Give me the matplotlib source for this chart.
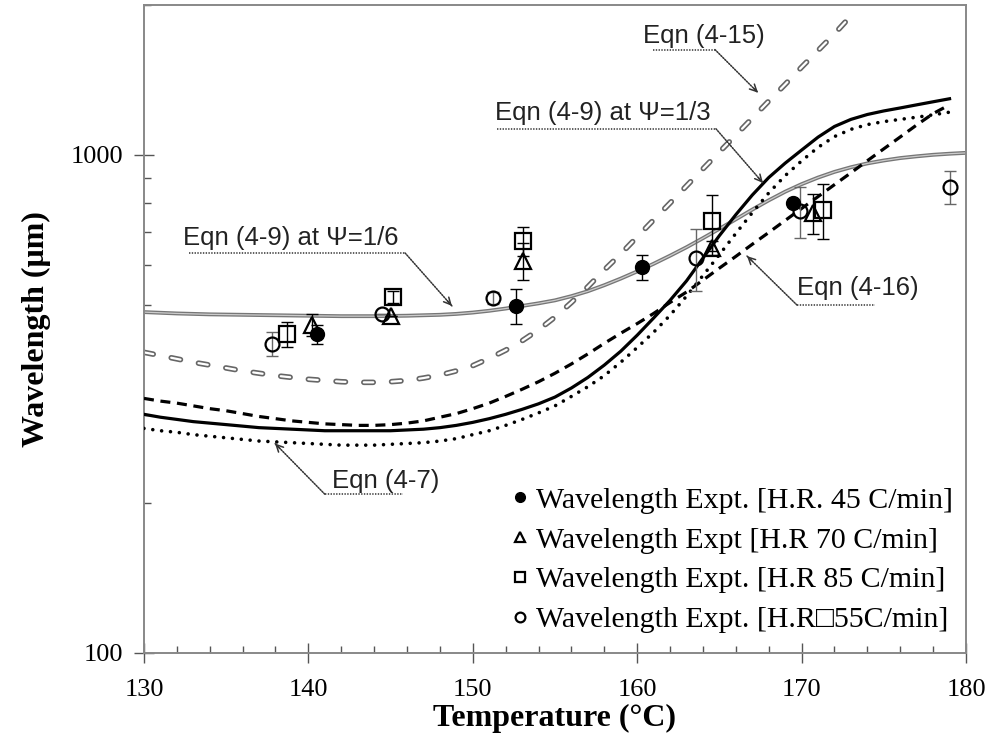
import matplotlib
matplotlib.use('Agg')
import matplotlib.pyplot as plt
import numpy as np

plt.rcParams['lines.scale_dashes'] = False

# curvas de los modelos (temperatura en C, longitud de onda en um)
t_psi6 = [130, 132, 134, 136, 138, 140, 142, 144, 146, 148, 149, 150, 151, 152, 153, 154, 155, 156, 157, 158,
          159, 160, 161, 162, 163, 164, 165, 166, 167, 168, 169, 170, 171, 172, 173, 174, 175, 176, 177, 178, 179, 180]
w_psi6 = [483, 480, 478, 477, 476, 475, 474, 474, 475, 477, 479, 482, 486, 491, 497, 503, 510, 520, 532, 547,
          564, 583, 604, 627, 652, 680, 710, 742, 776, 810, 843, 873, 900, 924, 944, 961, 974, 985, 993, 1000, 1005, 1009]

t_eq15 = [130, 131, 132, 133, 134, 135, 136, 137, 138, 139, 140, 141, 142, 143, 144, 145, 146, 147, 148, 149,
          150, 151, 152, 153, 154, 155, 156, 157, 158, 159, 160, 161, 162, 163, 164, 165, 166, 167, 168, 169,
          170, 171, 172, 172.8]
w_eq15 = [401, 395, 389, 383, 378, 373, 368, 364, 360, 357, 354, 352, 350, 349, 349, 350, 352, 356, 361, 368,
          377, 390, 405, 423, 445, 472, 505, 543, 587, 632, 684, 740, 800, 866, 937, 1013, 1095, 1185, 1282, 1385,
          1500, 1620, 1750, 1870]

t_psi3 = [130, 131, 132, 133, 134, 135, 136, 137, 138, 139, 140, 141, 142, 143, 144, 145, 146, 147, 148, 149,
          150, 151, 152, 153, 154, 155, 156, 157, 158, 159, 160, 161, 162, 163, 164, 165, 166, 167, 168, 169,
          170, 171, 172, 173, 174, 175, 176, 177, 178, 179]
w_psi3 = [301, 297, 294, 291, 289, 287, 285, 283, 282, 281, 280, 279, 279, 279, 279, 279, 280, 281, 283, 286,
          290, 295, 301, 308, 316, 326, 340, 357, 378, 403, 434, 470, 510, 558, 620, 688, 758, 830, 900, 962,
          1022, 1085, 1140, 1178, 1205, 1225, 1242, 1260, 1278, 1296]

t_eq16 = [130, 131, 132, 133, 134, 135, 136, 137, 138, 139, 140, 141, 142, 143, 144, 145, 146, 147, 148, 149,
          150, 151, 152, 153, 154, 155, 156, 157, 158, 159, 160, 161, 162, 163, 164, 165, 166, 167, 168, 169,
          170, 171, 172, 173, 174, 175, 176, 177, 178, 178.7]
w_eq16 = [324, 320, 317, 313, 309, 306, 302, 298, 295, 292, 290, 288, 287, 286, 286, 287, 289, 292, 297, 302,
          309, 317, 327, 338, 350, 364, 380, 398, 418, 438, 458, 480, 505, 530, 560, 592, 625, 661, 698, 738,
          780, 824, 871, 920, 973, 1028, 1086, 1148, 1210, 1245]

t_eq7 = [130, 131, 132, 133, 134, 135, 136, 137, 138, 139, 140, 141, 142, 143, 144, 145, 146, 147, 148, 149,
         150, 151, 152, 153, 154, 155, 156, 157, 158, 159, 160, 161, 162, 163, 164, 165, 166, 167, 168, 169,
         170, 171, 172, 173, 174, 175, 176, 177, 178, 179]
w_eq7 = [282, 279, 277, 274, 272, 270, 268, 266, 265, 264, 263, 262, 261, 261, 261, 262, 263, 264, 266, 269,
         274, 279, 286, 294, 303, 313, 327, 342, 360, 383, 410, 440, 476, 520, 572, 630, 695, 765, 838, 908,
         972, 1035, 1088, 1125, 1150, 1166, 1178, 1190, 1203, 1218]

# datos experimentales
t_45 = [140.5, 152.6, 160.3, 169.5]
w_45 = [436, 497, 595, 800]
e_45 = [20, 40, 35, 0]

t_70 = [140.2, 145.0, 153.05, 164.55, 170.7]
w_70 = [455, 474, 612, 650, 764]
e_70 = [23, 0, 52, 20, 70]

t_85 = [138.7, 145.15, 153.05, 164.55, 171.3]
w_85 = [436, 518, 671, 737, 775]
e_85 = [25, 15, 45, 95, 98]

t_55 = [137.8, 144.5, 151.2, 163.6, 169.9, 179.0]
w_55 = [417, 479, 516, 621, 770, 862]
e_55 = [23, 0, 15, 88, 90, 64]

etiquetas = ['Wavelength Expt. [H.R. 45 C/min]',
             'Wavelength Expt [H.R 70 C/min]',
             'Wavelength Expt. [H.R 85 C/min]',
             'Wavelength Expt. [H.R\u25a155C/min]']

fig = plt.figure(figsize=(9.97, 7.42), dpi=100)
ax = fig.add_axes([0.1444, 0.1206, 0.8245, 0.8727])
ax.set_yscale('log')

# Eqn (4-9) psi=1/6 : linea doble gris
ax.plot(t_psi6, w_psi6, color='#777777', lw=2.8, zorder=2)
ax.plot(t_psi6, w_psi6, color='#cccccc', lw=0.9, zorder=2)

# Eqn (4-15) : guiones grises huecos
ax.plot(t_eq15, w_eq15, color='#666666', lw=4, dashes=(6.8, 13.2), dash_capstyle='round', zorder=2)
ax.plot(t_eq15, w_eq15, color='white', lw=1.6, dashes=(6.8, 13.2), dash_capstyle='round', zorder=2)

# Eqn (4-9) psi=1/3, Eqn (4-16), Eqn (4-7)
ax.plot(t_psi3, w_psi3, color='black', lw=2.3, zorder=3)
ax.plot(t_eq16, w_eq16, color='black', lw=2.3, dashes=(7.2, 4.8), zorder=3)
ax.plot(t_eq7, w_eq7, color='black', lw=2.6, dashes=(0.01, 6.4), dash_capstyle='round', zorder=3)

# barras de error
for t, w, e, c in [(t_45, w_45, e_45, 'black'), (t_70, w_70, e_70, 'black'),
                   (t_85, w_85, e_85, 'black'), (t_55, w_55, e_55, '#666666')]:
    ax.errorbar(t, w, yerr=e, fmt='none', ecolor=c, elinewidth=1, capsize=4, capthick=1, zorder=4)

h1, = ax.plot(t_45, w_45, 'o', ms=10, color='black', zorder=5)
h2, = ax.plot(t_70, w_70, '^', ms=11, mfc='none', mec='black', mew=1.6, zorder=5)
h3, = ax.plot(t_85, w_85, 's', ms=11, mfc='none', mec='black', mew=1.6, zorder=5)
h4, = ax.plot(t_55, w_55, 'o', ms=10, mfc='none', mec='black', mew=1.6, zorder=5)

ax.legend([h1, h2, h3, h4], etiquetas, loc='lower left', bbox_to_anchor=(0.430, 0.007),
          frameon=False, markerscale=0.7, handlelength=0.5, handletextpad=0.3,
          labelspacing=0.43, borderpad=0,
          prop={'family': ['Liberation Serif', 'DejaVu Serif'], 'size': 21.5})

# anotaciones con lineas punteadas
def rotulo(texto, xt, yt, x0, x1, yl, punta, desde):
    ax.text(xt, yt, texto, fontsize=18.5, family='Liberation Sans', ha='left', va='center', color='#222222')
    ax.plot([x0, x1], [yl, yl], color='#333333', lw=1.1, ls=(0, (1, 1)))
    ax.annotate('', xy=punta, xytext=desde,
                arrowprops=dict(arrowstyle='-', color='#333333', lw=1.1, ls=(0, (1, 1)), shrinkA=0, shrinkB=0))
    lx = np.log10(punta[1]) - np.log10(desde[1])
    px = desde[0] + 0.9 * (punta[0] - desde[0])
    py = 10 ** (np.log10(desde[1]) + 0.9 * lx)
    ax.annotate('', xy=punta, xytext=(px, py),
                arrowprops=dict(arrowstyle='->,head_length=0.5,head_width=0.25', color='#333333', lw=1.1,
                                shrinkA=0, shrinkB=0))

rotulo('Eqn (4-15)', 160.35, 1735, 160.96, 164.73, 1627, (167.35, 1333), (164.73, 1627))
rotulo('Eqn (4-9) at \u03a8=1/3', 151.35, 1215, 151.47, 164.79, 1128, (167.65, 878), (164.79, 1128))
rotulo('Eqn (4-9) at \u03a8=1/6', 132.37, 681, 132.74, 145.88, 635, (148.73, 497), (145.88, 635))
rotulo('Eqn (4-16)', 169.72, 540, 169.72, 174.46, 499, (166.68, 626), (169.72, 499))
rotulo('Eqn (4-7)', 141.44, 221, 141.0, 145.75, 208, (137.97, 263), (141.0, 208))

ax.set_xlim(130, 180)
ax.set_ylim(100, 2000)
ax.set_xticks(range(130, 181, 10))
ax.set_xticks(np.arange(132, 180, 2), minor=True)
ax.set_yticks([100, 1000])
ax.set_yticks([200, 300, 400, 500, 600, 700, 800, 900, 2000], minor=True)
ax.set_yticklabels(['100', '1000'])
ax.yaxis.set_minor_formatter(matplotlib.ticker.NullFormatter())

for s in ax.spines.values():
    s.set_color('#888888')
    s.set_linewidth(1.4)

ax.tick_params(which='major', direction='inout', length=14, width=1, color='#555555',
               labelsize=19, pad=8)
ax.tick_params(axis='x', which='major', pad=12)
ax.tick_params(which='minor', direction='in', length=5, width=1, color='#555555')
for lab in ax.get_xticklabels() + ax.get_yticklabels():
    lab.set_family('Liberation Serif')

ax.set_xlabel('Temperature (\u00b0C)', family='Liberation Serif', fontweight='bold', fontsize=23, labelpad=2)
ax.set_ylabel('Wavelength (\u03bcm)', family='Liberation Serif', fontweight='bold', fontsize=23, labelpad=14)

fig.savefig('out.png', dpi=100)
